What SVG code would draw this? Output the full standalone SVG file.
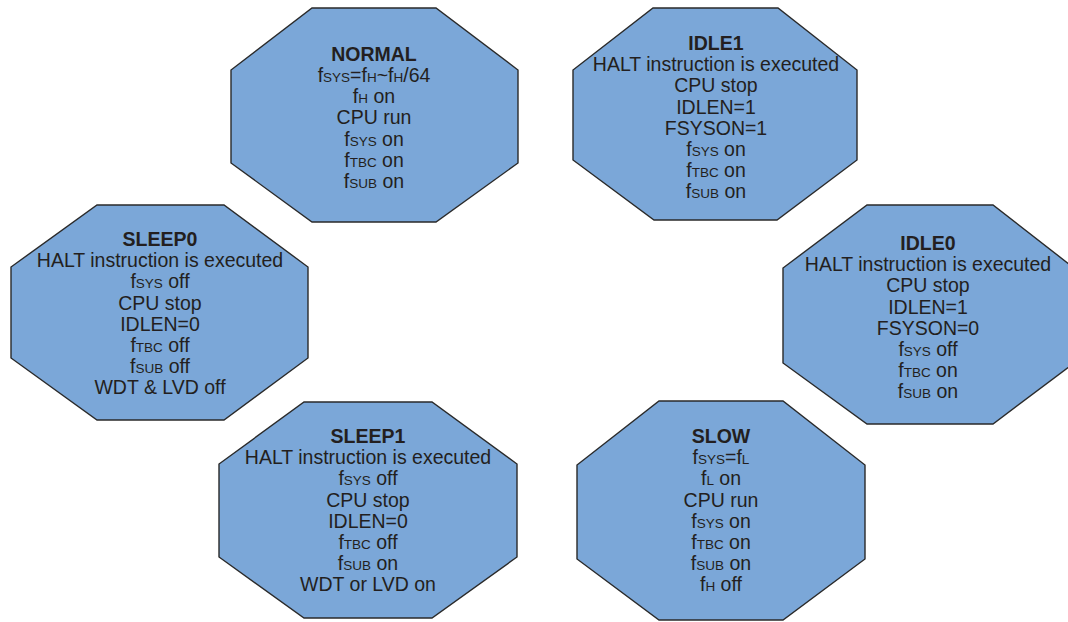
<svg xmlns="http://www.w3.org/2000/svg" width="1068" height="622" viewBox="0 0 1068 622">
<style>
.oct{fill:#7ba7d8;stroke:#2a2a2a;stroke-width:1.4;stroke-linejoin:miter}
text{font-family:"Liberation Sans",Arial,sans-serif;font-size:19.5px;fill:#231f20;text-anchor:middle}
.t{font-weight:bold}
.s{font-size:13.5px}
</style>
<rect width="1068" height="622" fill="#ffffff"/>
<g id="connectors"></g>
<g id="normal">
<polygon class="oct" points="312,8 436,8 518,70 518,163 436,222 312,222 231,163 231,70"/>
<text x="374" y="61" class="t">NORMAL</text>
<text x="374" y="82">f<tspan class="s">SYS</tspan>=f<tspan class="s">H</tspan>~f<tspan class="s">H</tspan>/64</text>
<text x="374" y="103">f<tspan class="s">H</tspan> on</text>
<text x="374" y="124">CPU run</text>
<text x="374" y="146">f<tspan class="s">SYS</tspan> on</text>
<text x="374" y="167">f<tspan class="s">TBC</tspan> on</text>
<text x="374" y="188">f<tspan class="s">SUB</tspan> on</text>
</g>
<g id="idle1">
<polygon class="oct" points="653,8 778,8 857,70 857,160 777,220 654,220 573,160 573,70"/>
<text x="716" y="50" class="t">IDLE1</text>
<text x="716" y="71">HALT instruction is executed</text>
<text x="716" y="92">CPU stop</text>
<text x="716" y="114">IDLEN=1</text>
<text x="716" y="135">FSYSON=1</text>
<text x="716" y="156">f<tspan class="s">SYS</tspan> on</text>
<text x="716" y="177">f<tspan class="s">TBC</tspan> on</text>
<text x="716" y="198">f<tspan class="s">SUB</tspan> on</text>
</g>
<g id="sleep0">
<polygon class="oct" points="97,205 224,205 308,267 308,358 224,420 97,420 11,358 11,267"/>
<text x="160" y="246" class="t">SLEEP0</text>
<text x="160" y="267">HALT instruction is executed</text>
<text x="160" y="288">f<tspan class="s">SYS</tspan> off</text>
<text x="160" y="310">CPU stop</text>
<text x="160" y="331">IDLEN=0</text>
<text x="160" y="352">f<tspan class="s">TBC</tspan> off</text>
<text x="160" y="373">f<tspan class="s">SUB</tspan> off</text>
<text x="160" y="394">WDT &amp; LVD off</text>
</g>
<g id="idle0">
<polygon class="oct" points="867,205 993,205 1074,268 1074,363 993,424 867,424 783,363 783,268"/>
<text x="928" y="250" class="t">IDLE0</text>
<text x="928" y="271">HALT instruction is executed</text>
<text x="928" y="292">CPU stop</text>
<text x="928" y="314">IDLEN=1</text>
<text x="928" y="335">FSYSON=0</text>
<text x="928" y="356">f<tspan class="s">SYS</tspan> off</text>
<text x="928" y="377">f<tspan class="s">TBC</tspan> on</text>
<text x="928" y="398">f<tspan class="s">SUB</tspan> on</text>
</g>
<g id="sleep1">
<polygon class="oct" points="304,402 432,402 517,464 517,557 432,618 304,618 219,557 219,464"/>
<text x="368" y="443" class="t">SLEEP1</text>
<text x="368" y="464">HALT instruction is executed</text>
<text x="368" y="485">f<tspan class="s">SYS</tspan> off</text>
<text x="368" y="507">CPU stop</text>
<text x="368" y="528">IDLEN=0</text>
<text x="368" y="549">f<tspan class="s">TBC</tspan> off</text>
<text x="368" y="570">f<tspan class="s">SUB</tspan> on</text>
<text x="368" y="591">WDT or LVD on</text>
</g>
<g id="slow">
<polygon class="oct" points="659,401 783,401 865,465 865,559 783,620 659,620 577,559 577,465"/>
<text x="721" y="443" class="t">SLOW</text>
<text x="721" y="464">f<tspan class="s">SYS</tspan>=f<tspan class="s">L</tspan></text>
<text x="721" y="485">f<tspan class="s">L</tspan> on</text>
<text x="721" y="507">CPU run</text>
<text x="721" y="528">f<tspan class="s">SYS</tspan> on</text>
<text x="721" y="549">f<tspan class="s">TBC</tspan> on</text>
<text x="721" y="570">f<tspan class="s">SUB</tspan> on</text>
<text x="721" y="591">f<tspan class="s">H</tspan> off</text>
</g>
</svg>
